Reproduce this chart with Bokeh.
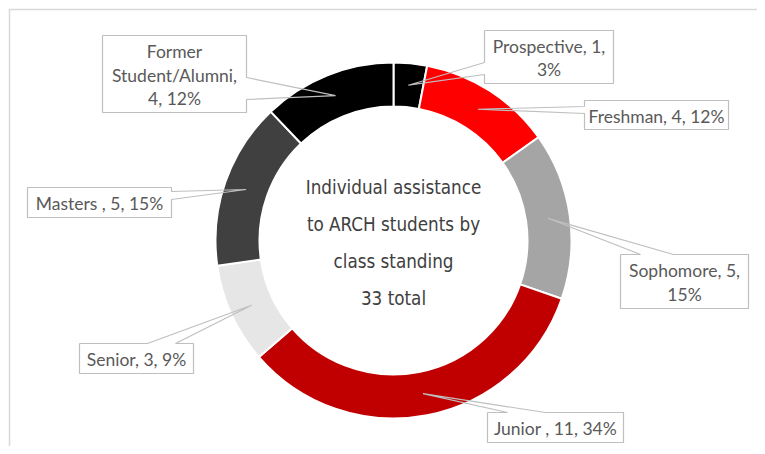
import math
import numpy as np
from bokeh.plotting import figure
from bokeh.models import Range1d
from bokeh.core.properties import value
from bokeh.embed import file_html
from bokeh.resources import INLINE

# ---------------- data ----------------
categories = ["Prospective", "Freshman", "Sophomore", "Junior ", "Senior", "Masters ", "Former Student/Alumni"]
counts = [1, 4, 5, 11, 3, 5, 4]
percents = [3, 12, 15, 34, 9, 15, 12]
colors = ["#000000", "#FF0000", "#A5A5A5", "#C00000", "#E7E6E6", "#404040", "#000000"]
title_lines = ["Individual assistance", "to ARCH students by", "class standing"]

# label line breaks (layout): text split per callout
label_lines = [
    ["Prospective, 1,", "3%"],
    ["Freshman, 4, 12%"],
    ["Sophomore, 5,", "15%"],
    ["Junior , 11, 34%"],
    ["Senior, 3, 9%"],
    ["Masters , 5, 15%"],
    ["Former", "Student/Alumni,", "4, 12%"],
]

# ---------------- layout (image pixel coords) ----------------
W, H = 757, 446
OX, OY = 0, 0


def X(px):
    return px - OX


def Y(py):
    return OY + H - py


CX, CY = 393, 240
R_OUT, R_IN, R_TIP = 178, 135, 156

# (left, top, right, bottom, side, a1, a2)
boxes = [
    (484, 30, 613, 83, "left", 62, 74),
    (584, 100, 728, 129, "left", 106, 113),
    (620, 254, 748, 308, "top", 640, 673),
    (487, 412, 623, 442, "top", 507, 545),
    (79, 343, 193, 373, "top", 147, 175),
    (27, 187, 171, 217, "right", 191, 199),
    (102, 35, 246, 112, "right", 77, 99),
]
LINE_H = 23.5

p = figure(width=W, height=H, output_backend="svg", toolbar_location=None,
           x_range=Range1d(0, W), y_range=Range1d(0, H), min_border=0,
           x_axis_location=None, y_axis_location=None)
p.grid.visible = False
p.outline_line_color = None
p.background_fill_color = "white"
p.border_fill_color = "white"

# chart frame (top & left edges)
p.line(x=[X(9), X(9), X(764)], y=[Y(454), Y(9), Y(9)], line_color="#D9D9D9", line_width=1.5)

# donut
total = sum(counts)
cum = np.concatenate([[0], np.cumsum(counts)])
start = [math.pi / 2 - 2 * math.pi * cum[i] / total for i in range(len(counts))]
end = [math.pi / 2 - 2 * math.pi * cum[i + 1] / total for i in range(len(counts))]
p.annular_wedge(x=X(CX), y=Y(CY), inner_radius=R_IN - 1, outer_radius=R_OUT,
                start_angle=start, end_angle=end, direction="clock",
                fill_color=colors, line_color="white", line_width=2)

# callouts
mids = [math.pi / 2 - 2 * math.pi * (cum[i] + counts[i] / 2) / total for i in range(len(counts))]
tips = [(X(CX) + R_TIP * math.cos(m), Y(CY) + R_TIP * math.sin(m)) for m in mids]

p.quad(left=[X(b[0]) for b in boxes], right=[X(b[2]) for b in boxes],
       top=[Y(b[1]) for b in boxes], bottom=[Y(b[3]) for b in boxes],
       fill_color="white", line_color=None)

xs_paths, ys_paths = [], []
for b, (tx, ty) in zip(boxes, tips):
    l, t, r, bt, side, a1, a2 = b
    if side == "left":
        pts = [(l, t), (r, t), (r, bt), (l, bt), (l, a2), None, (l, a1), (l, t)]
    elif side == "right":
        pts = [(l, t), (r, t), (r, a1), None, (r, a2), (r, bt), (l, bt), (l, t)]
    else:  # top
        pts = [(l, t), (a1, t), None, (a2, t), (r, t), (r, bt), (l, bt), (l, t)]
    xs, ys = [], []
    for pt in pts:
        if pt is None:
            xs.append(tx)
            ys.append(ty)
        else:
            xs.append(X(pt[0]))
            ys.append(Y(pt[1]))
    xs_paths.append(xs)
    ys_paths.append(ys)
p.multi_line(xs=xs_paths, ys=ys_paths, line_color="#BFBFBF", line_width=1.2)

tx_, ty_, tt_ = [], [], []
for b, lines in zip(boxes, label_lines):
    l, t, r, bt = b[0], b[1], b[2], b[3]
    cxb = (l + r) / 2
    cyb = (t + bt) / 2 + 1
    n = len(lines)
    for k, s in enumerate(lines):
        tx_.append(X(cxb))
        ty_.append(Y(cyb + (k - (n - 1) / 2) * LINE_H))
        tt_.append(s)
p.text(x=tx_, y=ty_, text=tt_, text_font=value("Lato"), text_font_size="17.5px",
       text_color="#595959", text_align="center", text_baseline="middle")

# center title
center_lines = title_lines + [f"{total} total"]
cy0 = 187
p.text(x=[X(CX)] * len(center_lines), y=[Y(cy0 + 37 * k) for k in range(len(center_lines))],
       text=center_lines, text_font=value("DejaVu Sans Condensed"), text_font_size="18.7px",
       text_color="#404040", text_align="center", text_baseline="middle")

open("out.html", "w").write(file_html(p, INLINE))
